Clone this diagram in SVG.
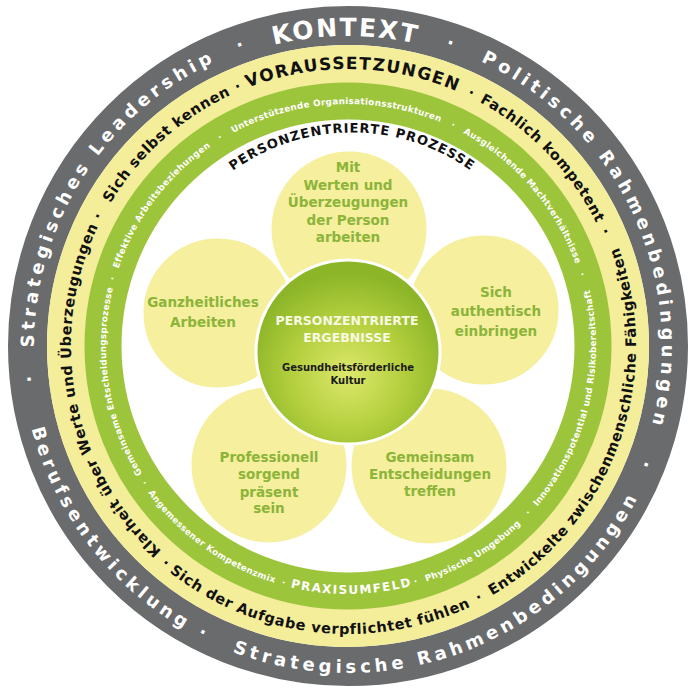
<svg xmlns="http://www.w3.org/2000/svg" width="690" height="688" viewBox="0 0 690 688">
<defs>
<path id="gcw" d="M 348 660 A 314 314 0 1 1 348 32 A 314 314 0 1 1 348 660"/>
<path id="kcw" d="M 348 656 A 310 310 0 1 1 348 36 A 310 310 0 1 1 348 656"/>
<path id="gccw" d="M 348 19 A 327 327 0 1 0 348 673 A 327 327 0 1 0 348 19"/>
<path id="ycw" d="M 348 623 A 277 277 0 1 1 348 69 A 277 277 0 1 1 348 623"/>
<path id="yccw" d="M 348 58 A 288 288 0 1 0 348 634 A 288 288 0 1 0 348 58"/>
<path id="ncw" d="M 348 588 A 242 242 0 1 1 348 104 A 242 242 0 1 1 348 588"/>
<path id="nccw" d="M 348 98 A 248 248 0 1 0 348 594 A 248 248 0 1 0 348 98"/>
<path id="ppath" d="M 148 336.5 A 204 204 0 0 1 556 336.5"/>
<radialGradient id="cg" cx="50%" cy="62%" r="55%">
<stop offset="0" stop-color="#dde86c"/>
<stop offset="0.55" stop-color="#b4cf3e"/>
<stop offset="1" stop-color="#8cb628"/>
</radialGradient>
<style>
text{font-family:"DejaVu Sans","Liberation Sans",sans-serif;font-weight:bold;text-anchor:middle}
.gr{fill:#ffffff;font-size:18px;letter-spacing:4.2px}
.kx{fill:#ffffff;font-size:25px;letter-spacing:2px}
.ye{fill:#111111;font-size:14.5px;letter-spacing:0.6px}
.vo{fill:#111111;font-size:17px;letter-spacing:1.4px}
.gn{fill:#ffffff;font-size:8.8px;letter-spacing:0.3px}
.px{fill:#ffffff;font-size:12px;letter-spacing:1.5px}
.pt{fill:#f5ef9e;stroke:#ffffff;stroke-width:3}
.pl{fill:#8cb43a;font-size:13.5px}
.ct{fill:#f7f9e2;font-size:12.5px}
.cd{fill:#1a1a1a;font-size:10px}
.pp{fill:#111111;font-size:13px;letter-spacing:1px}
</style>
</defs>
<rect width="690" height="688" fill="#ffffff"/>
<g id="ring-kontext">
<circle cx="348" cy="346" r="320.5" fill="none" stroke="#6a6b6d" stroke-width="39"/>
<text class="gr"><textPath href="#gcw" startOffset="671.3">Strategisches Leadership</textPath></text>
<text class="gr"><textPath href="#gcw" startOffset="879.6">·</textPath></text>
<text class="kx"><textPath href="#kcw" startOffset="971.2">KONTEXT</textPath></text>
<text class="gr"><textPath href="#gcw" startOffset="1090.6">·</textPath></text>
<text class="gr"><textPath href="#gcw" startOffset="1342.7">Politische Rahmenbedingungen</textPath></text>
<text class="gr"><textPath href="#gccw" startOffset="549.6">·</textPath></text>
<text class="gr"><textPath href="#gccw" startOffset="727.7">Berufsentwicklung</textPath></text>
<text class="gr"><textPath href="#gccw" startOffset="875.5">·</textPath></text>
<text class="gr"><textPath href="#gccw" startOffset="1147.1">Strategische Rahmenbedingungen</textPath></text>
<text class="gr"><textPath href="#gccw" startOffset="1418.8">·</textPath></text>
</g>
<g id="ring-voraussetzungen">
<circle cx="348" cy="346" r="282" fill="none" stroke="#f4ed9a" stroke-width="38"/>
<text class="ye"><textPath href="#ycw" startOffset="381.9">Klarheit über Werte und Überzeugungen</textPath></text>
<text class="ye"><textPath href="#ycw" startOffset="568.1">·</textPath></text>
<text class="ye"><textPath href="#ycw" startOffset="667.2">Sich selbst kennen</textPath></text>
<text class="ye"><textPath href="#ycw" startOffset="759">·</textPath></text>
<text class="vo"><textPath href="#ycw" startOffset="875.1">VORAUSSETZUNGEN</textPath></text>
<text class="ye"><textPath href="#ycw" startOffset="995.9">·</textPath></text>
<text class="ye"><textPath href="#ycw" startOffset="1092.6">Fachlich kompetent</textPath></text>
<text class="ye"><textPath href="#ycw" startOffset="1189.3">·</textPath></text>
<text class="ye"><textPath href="#yccw" startOffset="703.7">·</textPath></text>
<text class="ye"><textPath href="#yccw" startOffset="871.6">Sich der Aufgabe verpflichtet fühlen</textPath></text>
<text class="ye"><textPath href="#yccw" startOffset="1043">·</textPath></text>
<text class="ye"><textPath href="#yccw" startOffset="1256.6">Entwickelte zwischenmenschliche Fähigkeiten</textPath></text>
</g>
<g id="ring-praxisumfeld">
<circle cx="348" cy="346" r="245" fill="none" stroke="#9dc53c" stroke-width="37"/>
<text class="gn"><textPath href="#ncw" startOffset="342.3">Gemeinsame Entscheidungsprozesse</textPath></text>
<text class="gn"><textPath href="#ncw" startOffset="447.7">·</textPath></text>
<text class="gn"><textPath href="#ncw" startOffset="536.6">Effektive Arbeitsbeziehungen</textPath></text>
<text class="gn"><textPath href="#ncw" startOffset="627.2">·</textPath></text>
<text class="gn"><textPath href="#ncw" startOffset="747.6">Unterstützende Organisationsstrukturen</textPath></text>
<text class="gn"><textPath href="#ncw" startOffset="868">·</textPath></text>
<text class="gn"><textPath href="#ncw" startOffset="968.5">Ausgleichende Machtverhältnisse</textPath></text>
<text class="gn"><textPath href="#ncw" startOffset="1068.6">·</textPath></text>
<text class="gn"><textPath href="#nccw" startOffset="536.7">·</textPath></text>
<text class="gn"><textPath href="#nccw" startOffset="625.5">Angemessener Kompetenzmix</textPath></text>
<text class="gn"><textPath href="#nccw" startOffset="713.3">·</textPath></text>
<text class="px"><textPath href="#nccw" startOffset="782.6">PRAXISUMFELD</textPath></text>
<text class="gn"><textPath href="#nccw" startOffset="848.4">·</textPath></text>
<text class="gn"><textPath href="#nccw" startOffset="914.4">Physische Umgebung</textPath></text>
<text class="gn"><textPath href="#nccw" startOffset="983.4">·</textPath></text>
<text class="gn"><textPath href="#nccw" startOffset="1109.8">Innovationspotential und Risikobereitschaft</textPath></text>
</g>
<g id="title-prozesse">
<text class="pp"><textPath href="#ppath" startOffset="50%">PERSONZENTRIERTE PROZESSE</textPath></text>
</g>
<g id="petal-top">
<circle class="pt" cx="349" cy="229" r="79"/>
<text class="pl"><tspan x="348" y="172">Mit</tspan><tspan x="348" y="189.5">Werten und</tspan><tspan x="348" y="207">Überzeugungen</tspan><tspan x="348" y="224.5">der Person</tspan><tspan x="348" y="242">arbeiten</tspan></text>
</g>
<g id="petal-left">
<circle class="pt" cx="218" cy="313" r="76"/>
<text class="pl"><tspan x="203" y="306.5">Ganzheitliches</tspan><tspan x="203" y="326.5">Arbeiten</tspan></text>
</g>
<g id="petal-right">
<circle class="pt" cx="484" cy="310" r="76"/>
<text class="pl"><tspan x="496" y="296.5">Sich</tspan><tspan x="496" y="316">authentisch</tspan><tspan x="496" y="335.5">einbringen</tspan></text>
</g>
<g id="petal-bottom-left">
<circle class="pt" cx="269" cy="465" r="79"/>
<text class="pl"><tspan x="269" y="461.5">Professionell</tspan><tspan x="269" y="479">sorgend</tspan><tspan x="269" y="496.5">präsent</tspan><tspan x="269" y="513">sein</tspan></text>
</g>
<g id="petal-bottom-right">
<circle class="pt" cx="429" cy="466" r="79"/>
<text class="pl"><tspan x="430" y="461.5">Gemeinsam</tspan><tspan x="430" y="479">Entscheidungen</tspan><tspan x="430" y="496">treffen</tspan></text>
</g>
<g id="center">
<circle cx="348" cy="352" r="92" fill="url(#cg)" stroke="#ffffff" stroke-width="3"/>
<text class="ct"><tspan x="347" y="325">PERSONZENTRIERTE</tspan><tspan x="347" y="342">ERGEBNISSE</tspan></text>
<text class="cd"><tspan x="348" y="370.5">Gesundheitsförderliche</tspan><tspan x="348" y="383.5">Kultur</tspan></text>
</g>
</svg>
